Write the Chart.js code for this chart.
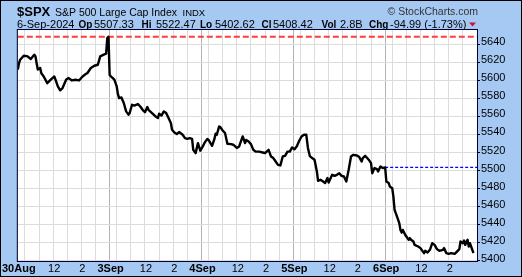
<!DOCTYPE html>
<html>
<head>
<meta charset="utf-8">
<script src="https://cdn.jsdelivr.net/npm/chart.js@4.4.1/dist/chart.umd.min.js"></script>
<style>
  html, body { margin: 0; padding: 0; background: #fff; }
  #wrap { width: 522px; height: 277px; }
</style>
</head>
<body>
<div id="wrap"><canvas id="spx" width="522" height="277"></canvas></div>
<script>
// sesiones y etiquetas del eje x
const dayNames = ['30Aug', '3Sep', '4Sep', '5Sep', '6Sep'];
const SESSION = 390;                        // 9:30 - 16:00 en minutos
const hourMarks = [30, 90, 150, 210, 270, 330]; // 10:00 ... 15:00
const hourLabels = { 150: '12', 270: '2' };

// minutos de negociacion desde la apertura del 30 Aug, y cierre de cada barra
const mins = [
  0, 5, 10, 25, 40, 55, 70, 75, 80, 85, 95, 100, 110, 125, 140, 155, 160, 170, 180, 190,
  205, 215, 230, 245, 260, 275, 290, 295, 310, 325, 340, 350, 365, 375, 380, 385,
  390, 400, 410, 420, 425, 430, 440, 450, 460, 470, 475, 485, 495, 510, 520, 530, 540, 550,
  555, 570, 585, 595, 600, 610, 620, 630, 640, 650, 655, 665, 675, 685, 700, 710, 720, 730,
  740, 745, 755, 765, 775,
  785, 795, 805, 810, 825, 835, 840, 845, 855, 860, 870, 880, 890, 905, 915, 930, 940, 955,
  965, 970, 980, 990, 1000, 1010, 1025, 1040, 1050, 1065, 1075, 1085, 1095, 1105, 1115,
  1125, 1135, 1145, 1155, 1165,
  1175, 1185, 1195, 1205, 1215, 1225, 1232, 1240, 1250, 1260, 1270, 1275, 1285, 1295, 1305,
  1315, 1320, 1335, 1345, 1355, 1365, 1375, 1385, 1395, 1405, 1415, 1425, 1440, 1450, 1460,
  1465, 1475, 1490, 1500, 1505, 1515, 1525, 1530, 1540, 1550, 1560,
  1565, 1575, 1580, 1590, 1595, 1600, 1605, 1610, 1620, 1625, 1630, 1635, 1645, 1650, 1660,
  1665, 1670, 1680, 1685, 1700, 1710, 1715, 1725, 1730, 1740, 1750, 1760, 1770, 1780, 1790,
  1805, 1810, 1820, 1830, 1840, 1855, 1865, 1875, 1880, 1890, 1895, 1900, 1910, 1915, 1920,
  1925, 1935
];
const closes = [
  5612, 5619, 5623, 5627.4, 5627, 5623.8, 5628.6, 5626.7, 5619, 5612, 5613.8, 5608, 5604.4, 5597,
  5600.8, 5604.4, 5600.8, 5593.3, 5589, 5591.5, 5600.8, 5602.6, 5600, 5600.8, 5600, 5604.4, 5607.4,
  5608, 5613.8, 5616.3, 5617.4, 5626.7, 5628.6, 5629.7, 5647, 5648.4,
  5606, 5603.3, 5600.8, 5593.3, 5585, 5580.4, 5581, 5575, 5565.6, 5562, 5563.8, 5573, 5572, 5573.8,
  5571, 5567.4, 5564.8, 5570.4, 5567.4, 5563.8, 5560, 5558.2, 5563, 5561, 5565.6, 5563.8, 5558.2,
  5552.7, 5545.2, 5542.2, 5540.4, 5542.7, 5539.7, 5536, 5535.2, 5536, 5535.2, 5523, 5519.3, 5530.4,
  5522,
  5526.5, 5531.6, 5535, 5534, 5527.4, 5535, 5540.8, 5539.7, 5548.9, 5548.2, 5544.4, 5541.6, 5529.7,
  5529.3, 5528.6, 5525, 5526.7, 5537.8, 5530.4, 5534, 5532.2, 5529.3, 5523, 5521, 5521, 5520, 5519.3,
  5523, 5515.6, 5513.8, 5510, 5506.3, 5505.6, 5515.6, 5516.3, 5521, 5521, 5525.6,
  5523.5, 5527, 5533, 5537.8, 5539.7, 5539.7, 5525, 5516, 5513.8, 5512, 5499, 5488.5, 5489.7, 5488,
  5486, 5491.6, 5486.7, 5495.2, 5494, 5495.2, 5497, 5494, 5493.3, 5487.8, 5500.8, 5515.6, 5517.4,
  5516.7, 5514.9, 5510, 5513.8, 5516.3, 5512, 5508.2, 5497, 5502.7, 5501.6, 5499, 5504.4, 5502.7,
  5503.4,
  5487.8, 5486, 5482.2, 5480.4, 5471, 5456.3, 5452.7, 5449, 5441.6, 5434, 5431, 5434, 5428.6, 5426.7,
  5423, 5424.9, 5423, 5421.1, 5417.4, 5415.6, 5413.8, 5411.9, 5408.2, 5410.8, 5408.9, 5411.9, 5419.3,
  5417.4, 5412.7, 5410.8, 5411.9, 5413.8, 5408.2, 5407.4, 5408.2, 5407.4, 5410, 5412.7, 5421.1, 5419.3,
  5422.2, 5417.4, 5423, 5415.6, 5419.3, 5415.6, 5408.4
];

const periodHigh = 5648.4;   // linea roja
const prevClose = 5503.41;   // linea azul (cierre anterior)

// cabecera
const quoteLabels = ['Op', 'Hi', 'Lo', 'Cl', 'Vol', 'Chg'];
const quoteValues = ['5507.33', '5522.47', '5402.62', '5408.42', '2.8B', '-94.99 (-1.73%)'];

const FONT = 'Arial, "Liberation Sans", sans-serif';
const FRAME_BLUE = '#a6c9f4';

const frame = {
  id: 'frame',
  beforeDraw(chart) {
    const { ctx, chartArea: a, width, height } = chart;
    ctx.save();
    ctx.fillStyle = FRAME_BLUE;
    ctx.fillRect(0, 0, width, height);
    ctx.fillStyle = '#fff';
    ctx.fillRect(a.left, a.top, a.right - a.left, a.bottom - a.top);

    ctx.fillStyle = '#000';
    ctx.textBaseline = 'alphabetic';
    ctx.font = 'bold 13px ' + FONT;
    ctx.fillText('$SPX', 17, 16);
    ctx.font = '10.5px ' + FONT;
    ctx.fillText('S&P 500 Large Cap Index', 55, 15.5);
    ctx.font = '9.5px ' + FONT;
    ctx.fillText('INDX', 182.5, 15.5);
    ctx.fillStyle = '#333';
    ctx.font = '10.5px ' + FONT;
    ctx.fillText('\u00A9 StockCharts.com', 387.5, 15);

    // segunda linea
    ctx.fillStyle = '#000';
    ctx.font = '11px ' + FONT;
    ctx.fillText('6-Sep-2024', 17, 27.5);
    const labelX = [78.5, 141.5, 200, 261.5, 321.5, 369];
    const valueX = [94, 156, 215, 273, 340, 390];
    quoteLabels.forEach((lab, i) => {
      ctx.font = 'bold 10px ' + FONT;
      ctx.fillText(lab, labelX[i], 27.5);
      ctx.font = '11px ' + FONT;
      ctx.fillText(quoteValues[i], valueX[i], 27.5);
    });
    // flecha roja
    ctx.fillStyle = '#d0103a';
    ctx.beginPath();
    ctx.moveTo(469, 22.5);
    ctx.lineTo(476, 22.5);
    ctx.lineTo(472.5, 26.5);
    ctx.closePath();
    ctx.fill();
    ctx.restore();
  },
  afterDraw(chart) {
    const { ctx, chartArea: a, width, height } = chart;
    ctx.save();
    ctx.strokeStyle = '#000033';
    ctx.lineWidth = 1;
    ctx.strokeRect(a.left - 0.5, a.top - 0.5, a.right - a.left + 1, a.bottom - a.top + 1);
    ctx.strokeStyle = '#000';
    ctx.strokeRect(0.5, 0.5, width - 1, height - 1);
    ctx.restore();
  }
};

const ctx = document.getElementById('spx').getContext('2d');
new Chart(ctx, {
  type: 'line',
  data: {
    datasets: [
      {
        data: mins.map((m, i) => ({ x: m, y: closes[i] })),
        borderColor: '#000',
        borderWidth: 2.4,
        borderJoinStyle: 'round',
        pointRadius: 0,
        tension: 0,
        order: 0
      },
      {
        data: [{ x: 0, y: periodHigh }, { x: 5 * SESSION, y: periodHigh }],
        borderColor: '#ff3b3b',
        borderWidth: 2,
        borderDash: [6, 3],
        pointRadius: 0,
        order: 2
      },
      {
        data: [{ x: 4 * SESSION, y: prevClose }, { x: 5 * SESSION, y: prevClose }],
        borderColor: '#0000ff',
        borderWidth: 1.2,
        borderDash: [3, 2],
        pointRadius: 0,
        order: 1
      }
    ]
  },
  options: {
    responsive: false,
    animation: false,
    events: [],
    layout: { padding: { left: 17, top: 30, right: 0, bottom: 0 } },
    plugins: { legend: { display: false }, tooltip: { enabled: false } },
    scales: {
      x: {
        type: 'linear',
        min: 0,
        max: 5 * SESSION,
        afterFit(s) { s.height = 16; },
        afterBuildTicks(s) {
          const t = [];
          dayNames.forEach((d, i) => {
            t.push({ value: i * SESSION });
            hourMarks.forEach(h => t.push({ value: i * SESSION + h }));
          });
          s.ticks = t;
        },
        border: { display: false },
        grid: {
          drawTicks: false,
          color: c => (c.tick && c.tick.value % SESSION === 0) ? '#b4b4b4' : '#dcdcdc'
        },
        ticks: {
          autoSkip: false,
          maxRotation: 0,
          padding: 1,
          labelOffset: 1,
          color: '#000',
          font: c => ({
            family: FONT,
            size: 11,
            weight: (c.tick && c.tick.value % SESSION === 0) ? 'bold' : 'normal'
          }),
          callback: v => v % SESSION === 0 ? dayNames[v / SESSION] : (hourLabels[v % SESSION] || '')
        }
      },
      y: {
        position: 'right',
        min: 5399.5,
        max: 5656,
        afterFit(s) { s.width = 45; },
        border: { display: false },
        grid: { color: '#dcdcdc', tickColor: '#000', tickLength: 3 },
        ticks: {
          stepSize: 20,
          includeBounds: false,
          padding: 1,
          labelOffset: -2,
          color: '#000',
          font: { family: FONT, size: 11 },
          callback: v => String(v)
        }
      }
    }
  },
  plugins: [frame]
});
</script>
</body>
</html>
